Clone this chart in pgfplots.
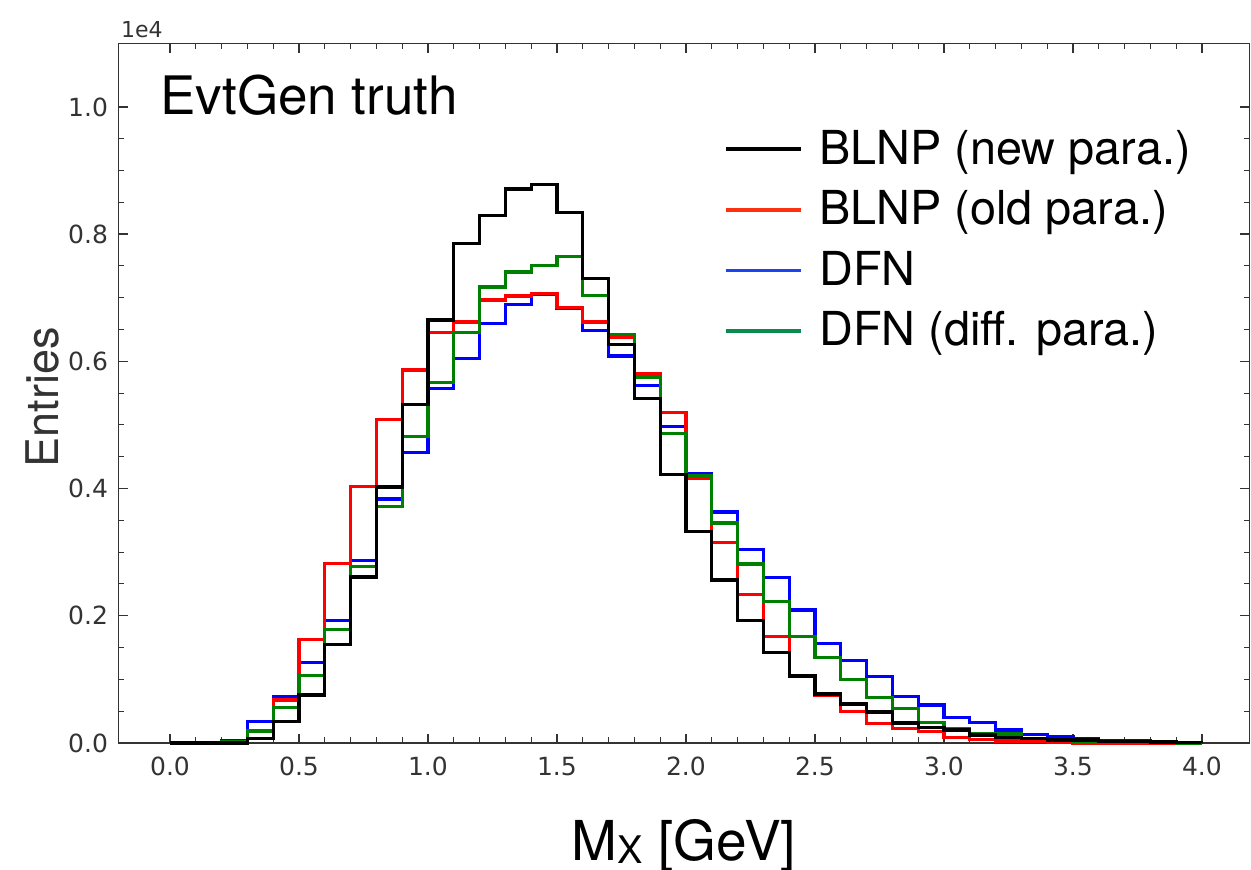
\documentclass[border=0pt]{standalone}
\usepackage{pgfplots}
\pgfplotsset{compat=1.18}
\usepackage{fontspec}
\setmainfont{TeX Gyre Heros}
\newfontfamily\tickfont{DejaVu Sans}
\definecolor{mgreen}{HTML}{008000}
\definecolor{lred}{HTML}{FF3010}
\definecolor{lblue}{HTML}{1A44F0}
\definecolor{lgreen}{HTML}{0A8A4E}
\definecolor{spine}{HTML}{333333}
\begin{document}
\begin{tikzpicture}
\path[use as bounding box] (0,0) rectangle (625.5pt,435pt);
\begin{axis}[
  at={(59.2pt,63.5pt)}, anchor=south west,
  scale only axis, width=565.6pt, height=349.8pt,
  xmin=-0.2, xmax=4.185, ymin=0, ymax=11000,
  clip=false,
  axis line style={spine, line width=0.75pt},
  xtick={0,0.5,1,1.5,2,2.5,3,3.5,4},
  xticklabels={0.0,0.5,1.0,1.5,2.0,2.5,3.0,3.5,4.0},
  ytick={0,2000,4000,6000,8000,10000},
  yticklabels={0.0,0.2,0.4,0.6,0.8,1.0},
  scaled y ticks=false,
  minor x tick num=4, minor y tick num=3,
  tick align=inside,
  major tick length=4.6pt, minor tick length=3pt,
  every major tick/.append style={spine, line width=0.7pt},
  every minor tick/.append style={spine, line width=0.5pt},
  xticklabel style={font=\tickfont\fontsize{12.5}{14}\selectfont, text=spine, inner sep=0pt, anchor=north, yshift=-7pt},
  yticklabel style={font=\tickfont\fontsize{12.5}{14}\selectfont, text=spine, inner sep=0pt, anchor=east, xshift=-5pt},
  xlabel={M\raisebox{-1.5pt}{\fontsize{19}{21}\selectfont X} [GeV]},
  xlabel style={font=\fontsize{27.5}{31}\selectfont, at={(axis description cs:0.50,-0.1465)}, anchor=center, inner sep=0pt},
  ylabel={Entries},
  ylabel style={font=\fontsize{22.5}{26}\selectfont, text=spine, at={(axis description cs:-0.0675,0.494)}, anchor=center, inner sep=0pt},
  legend style={at={(axis description cs:0.5353,0.876)}, anchor=north west, draw=none, fill=none, inner sep=0pt, outer sep=0pt,
    font=\fontsize{23.4}{28}\selectfont, row sep=8.3pt, column sep=8.5pt,
    nodes={inner sep=0pt, text height=17pt, text depth=5pt}},
  legend cell align=left,
  legend image code/.code={\draw[#1] (0pt,1.5pt) -- (37.5pt,1.5pt);},
]
\addlegendimage{black, line width=1.8pt}
\addlegendentry{BLNP (new para.)}
\addlegendimage{lred, line width=1.8pt}
\addlegendentry{BLNP (old para.)}
\addlegendimage{lblue, line width=1.8pt}
\addlegendentry{DFN}
\addlegendimage{lgreen, line width=1.8pt}
\addlegendentry{DFN (diff. para.)}

% DFN
\addplot[forget plot, const plot, blue, line width=1.6pt] coordinates {
(0.0,0)(0.0,0)(0.1,0)(0.2,42)(0.3,341)(0.4,730)(0.5,1270)(0.6,1921)(0.7,2870)(0.8,3837)(0.9,4562)
(1.0,5570)(1.1,6042)(1.2,6593)(1.3,6898)(1.4,7060)(1.5,6840)(1.6,6488)(1.7,6084)(1.8,5627)(1.9,4971)
(2.0,4229)(2.1,3633)(2.2,3046)(2.3,2605)(2.4,2091)(2.5,1567)(2.6,1300)(2.7,1042)(2.8,728)(2.9,598)
(3.0,404)(3.1,319)(3.2,204)(3.3,136)(3.4,99)(3.5,68)(3.6,40)(3.7,40)(3.8,10)(3.9,5)(4.0,5)(4.0,0)};
% BLNP old
\addplot[forget plot, const plot, red, line width=1.6pt] coordinates {
(0.0,0)(0.0,0)(0.1,0)(0.2,15)(0.3,194)(0.4,677)(0.5,1622)(0.6,2819)(0.7,4037)(0.8,5087)(0.9,5864)
(1.0,6452)(1.1,6619)(1.2,6966)(1.3,7029)(1.4,7071)(1.5,6845)(1.6,6619)(1.7,6373)(1.8,5806)(1.9,5192)
(2.0,4157)(2.1,3155)(2.2,2331)(2.3,1673)(2.4,1040)(2.5,755)(2.6,493)(2.7,309)(2.8,231)(2.9,178)
(3.0,90)(3.1,58)(3.2,31)(3.3,25)(3.4,5)(3.5,0)(3.6,0)(3.7,0)(3.8,0)(3.9,0)(4.0,0)(4.0,0)};
% DFN diff
\addplot[forget plot, const plot, mgreen, line width=1.6pt] coordinates {
(0.0,0)(0.0,0)(0.1,0)(0.2,20)(0.3,190)(0.4,562)(0.5,1060)(0.6,1780)(0.7,2777)(0.8,3722)(0.9,4824)
(1.0,5664)(1.1,6452)(1.2,7171)(1.3,7407)(1.4,7512)(1.5,7649)(1.6,7039)(1.7,6425)(1.8,5753)(1.9,4871)
(2.0,4205)(2.1,3460)(2.2,2814)(2.3,2226)(2.4,1675)(2.5,1344)(2.6,1003)(2.7,718)(2.8,545)(2.9,319)
(3.0,231)(3.1,141)(3.2,141)(3.3,70)(3.4,45)(3.5,30)(3.6,15)(3.7,10)(3.8,5)(3.9,0)(4.0,0)(4.0,0)};
% BLNP new
\addplot[forget plot, const plot, black, line width=1.6pt] coordinates {
(0.0,0)(0.0,0)(0.1,0)(0.2,0)(0.3,75)(0.4,341)(0.5,756)(0.6,1543)(0.7,2609)(0.8,4026)(0.9,5323)
(1.0,6650)(1.1,7853)(1.2,8299)(1.3,8709)(1.4,8787)(1.5,8341)(1.6,7307)(1.7,6268)(1.8,5417)(1.9,4220)
(2.0,3328)(2.1,2563)(2.2,1923)(2.3,1420)(2.4,1053)(2.5,770)(2.6,613)(2.7,487)(2.8,314)(2.9,247)
(3.0,204)(3.1,126)(3.2,90)(3.3,73)(3.4,47)(3.5,47)(3.6,20)(3.7,20)(3.8,15)(3.9,10)(4.0,10)(4.0,0)};

\node[anchor=base west, font=\fontsize{26.5}{30}\selectfont, inner sep=0pt] at (axis description cs:0.0368,0.8977) {EvtGen truth};
\node[anchor=base west, font=\tickfont\fontsize{11}{13}\selectfont, text=spine, inner sep=0pt, xshift=1.15pt, yshift=2.7pt] at (axis description cs:0,1) {1e4};
\end{axis}
\end{tikzpicture}
\end{document}
